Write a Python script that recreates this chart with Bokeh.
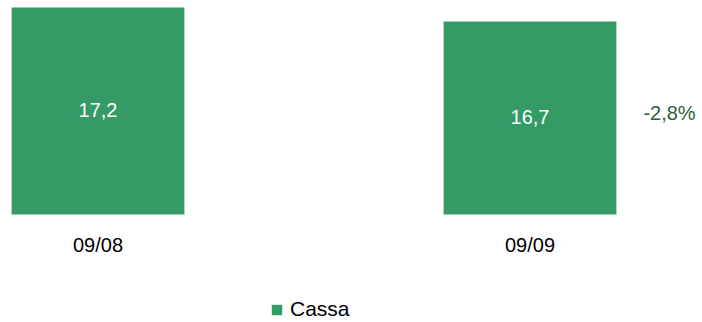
from bokeh.plotting import figure
from bokeh.models import ColumnDataSource, Range1d, Legend, LegendItem
from bokeh.core.properties import value
from bokeh.embed import file_html
from bokeh.resources import INLINE

# ---- data ----
categories = ["09/08", "09/09"]
cassa = [17.2, 16.7]
value_labels = ["17,2", "16,7"]
change_label = "-2,8%"
series_name = "Cassa"

GREEN = "#349A66"
FONT = "Liberation Sans"

baseline = 9.807
xs = list(range(len(categories)))
mids = [(baseline + v) / 2 for v in cassa]

src = ColumnDataSource(dict(x=xs, top=cassa, mid=mids, lab=value_labels,
                            cat=categories, base=[baseline] * len(xs)))

p = figure(width=702, height=322, output_backend="svg", toolbar_location=None,
           x_range=Range1d(-0.2257, 1.3993), y_range=Range1d(5.95, 17.45),
           min_border=0, x_axis_location=None, y_axis_location=None)
p.outline_line_color = None
p.xgrid.visible = False
p.ygrid.visible = False

bars = p.vbar(x="x", top="top", bottom=baseline, width=0.4, source=src,
              fill_color=GREEN, line_color=None)

p.text(x="x", y="mid", text="lab", source=src, text_color="white",
       text_font=value(FONT), text_font_size="20px",
       text_align="center", text_baseline="middle", y_offset=-1)

p.text(x=[xs[-1]], y=[mids[-1]], text=[change_label], text_color="#2E5E3E",
       text_font=value(FONT), text_font_size="20px",
       text_align="center", text_baseline="middle", x_offset=139.5, y_offset=-5)

# category labels under the bars
p.text(x="x", y="base", text="cat", source=src, text_color="#000000",
       text_font=value(FONT), text_font_size="20px",
       text_align="center", text_baseline="top", y_offset=19)

legend = Legend(items=[LegendItem(label=series_name, renderers=[bars])],
                location=(270, 1), orientation="horizontal",
                glyph_width=13, glyph_height=13, label_standoff=7,
                padding=2, margin=0, border_line_color=None,
                background_fill_alpha=0, label_text_font=FONT,
                label_text_font_size="21px", label_text_color="#000000")
p.add_layout(legend, "center")

open("out.html", "w").write(file_html(p, INLINE))
